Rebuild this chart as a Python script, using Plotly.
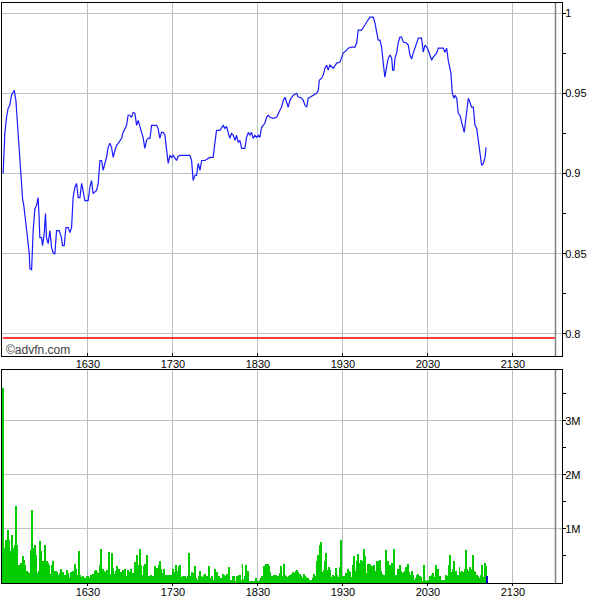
import pandas as pd
import plotly.graph_objects as go

# ---------------- data ----------------
session_start = "2024-01-02 15:30:00"
session_end_min = 390          # 22:00 close marker (minutes after 15:30)
axis_end_min = 394.6
prev_close = 0.7975

# price: minutes after 15:30, price
price_min = [0.2, 1.4, 2.6, 3.7, 4.9, 6.1, 7.3, 8.0, 9.2, 10.8, 12.0, 13.2, 13.9, 14.8, 16.7, 18.6, 19.1, 20.3,
             21.4, 22.6, 23.8, 24.9, 25.6, 26.1, 27.3, 28.0, 29.2, 30.1, 30.8, 32.0, 33.2, 34.4, 35.5, 36.7, 37.9,
             39.7, 41.4, 42.1, 43.3, 44.5, 46.1, 47.3, 48.5, 49.6, 50.8, 52.0, 53.2, 54.4, 55.6, 56.7, 57.9, 59.1,
             60.2, 61.4, 62.6, 63.7, 66.1, 67.3, 68.5, 69.7, 70.8, 72.0, 73.2, 74.3, 75.5, 76.7, 77.9, 79.1, 80.3,
             81.4, 82.6, 83.8, 84.9, 86.1, 87.3, 88.4, 89.6, 90.8, 92.0, 93.2, 94.4, 95.5, 96.7, 97.9, 99.0, 100.2,
             101.4, 102.6, 103.8, 105.0, 108.5, 109.6, 110.8, 112.0, 113.2, 114.4, 115.6, 116.7, 117.9, 119.1,
             120.2, 121.4, 122.6, 123.7, 124.9, 127.3, 132.0, 133.2, 134.3, 135.5, 136.7, 137.9, 139.1, 140.3,
             142.6, 146.1, 148.4, 149.6, 150.8, 153.2, 154.4, 155.5, 156.7, 157.9, 159.0, 160.2, 161.4, 162.6,
             163.8, 164.9, 166.1, 167.3, 168.5, 170.8, 172.0, 173.2, 174.4, 175.5, 176.7, 177.9, 179.1, 180.2,
             181.4, 182.6, 183.7, 184.9, 186.1, 187.3, 188.5, 190.8, 193.2, 194.3, 195.5, 196.7, 197.9, 199.1,
             200.3, 201.4, 202.6, 204.9, 207.3, 208.5, 209.6, 210.8, 212.0, 213.2, 214.4, 215.5, 216.7, 219.0,
             221.4, 222.6, 223.3, 225.0, 226.1, 227.3, 228.5, 229.6, 230.8, 233.2, 235.6, 237.9, 239.1, 240.2,
             242.6, 243.7, 246.1, 248.5, 249.7, 250.8, 253.2, 254.3, 255.5, 256.7, 257.9, 259.1, 261.4, 262.6,
             263.8, 264.9, 266.1, 267.3, 268.4, 269.6, 270.8, 272.0, 273.2, 274.4, 275.1, 276.0, 276.7, 277.9,
             279.0, 280.2, 281.4, 282.6, 284.9, 286.1, 287.3, 288.5, 289.6, 290.8, 292.0, 293.2, 295.5, 296.7,
             297.9, 299.1, 300.2, 301.4, 302.6, 303.7, 304.9, 306.1, 307.3, 309.6, 310.8, 312.0, 313.2, 314.3,
             315.5, 316.2, 317.2, 318.4, 319.1, 320.3, 321.4, 322.6, 323.8, 324.9, 325.6, 326.6, 327.3, 328.5,
             329.6, 330.8, 332.0, 333.2, 334.4, 335.6, 336.7, 337.9, 339.1, 340.3, 341.0]
price_val = [0.9000, 0.9250, 0.9350, 0.9406, 0.9425, 0.9488, 0.9506, 0.9519, 0.9456, 0.9250, 0.9081, 0.8925,
             0.8844, 0.8800, 0.8644, 0.8506, 0.8406, 0.8400, 0.8644, 0.8781, 0.8800, 0.8850, 0.8725, 0.8600,
             0.8600, 0.8550, 0.8625, 0.8750, 0.8600, 0.8563, 0.8644, 0.8538, 0.8506, 0.8500, 0.8644, 0.8644,
             0.8600, 0.8550, 0.8550, 0.8663, 0.8663, 0.8631, 0.8663, 0.8850, 0.8913, 0.8938, 0.8850, 0.8850,
             0.8938, 0.8894, 0.8831, 0.8831, 0.8831, 0.8913, 0.8956, 0.8875, 0.8894, 0.8938, 0.9081, 0.9081,
             0.9019, 0.9063, 0.9100, 0.9163, 0.9188, 0.9163, 0.9100, 0.9144, 0.9175, 0.9188, 0.9206, 0.9219,
             0.9256, 0.9281, 0.9300, 0.9363, 0.9363, 0.9350, 0.9381, 0.9375, 0.9300, 0.9331, 0.9300, 0.9256,
             0.9225, 0.9156, 0.9206, 0.9219, 0.9219, 0.9300, 0.9300, 0.9281, 0.9219, 0.9256, 0.9256, 0.9238,
             0.9144, 0.9063, 0.9113, 0.9100, 0.9113, 0.9094, 0.9081, 0.9106, 0.9113, 0.9113, 0.9113, 0.9081,
             0.8956, 0.8988, 0.8988, 0.9063, 0.9019, 0.9081, 0.9081, 0.9100, 0.9100, 0.9188, 0.9269, 0.9269,
             0.9288, 0.9300, 0.9281, 0.9294, 0.9256, 0.9219, 0.9250, 0.9238, 0.9206, 0.9238, 0.9194, 0.9206,
             0.9156, 0.9156, 0.9225, 0.9256, 0.9238, 0.9256, 0.9219, 0.9238, 0.9225, 0.9238, 0.9225, 0.9288,
             0.9300, 0.9313, 0.9350, 0.9363, 0.9350, 0.9344, 0.9350, 0.9375, 0.9394, 0.9413, 0.9456, 0.9475,
             0.9444, 0.9413, 0.9456, 0.9488, 0.9500, 0.9475, 0.9475, 0.9469, 0.9456, 0.9425, 0.9413, 0.9469,
             0.9475, 0.9488, 0.9500, 0.9519, 0.9581, 0.9594, 0.9613, 0.9656, 0.9675, 0.9644, 0.9675, 0.9656,
             0.9688, 0.9694, 0.9719, 0.9750, 0.9769, 0.9781, 0.9788, 0.9788, 0.9813, 0.9894, 0.9894, 0.9906,
             0.9925, 0.9944, 0.9956, 0.9975, 0.9975, 0.9938, 0.9881, 0.9831, 0.9831, 0.9788, 0.9694, 0.9600,
             0.9663, 0.9719, 0.9738, 0.9719, 0.9644, 0.9644, 0.9719, 0.9750, 0.9813, 0.9850, 0.9850, 0.9819,
             0.9813, 0.9800, 0.9738, 0.9713, 0.9750, 0.9781, 0.9800, 0.9844, 0.9844, 0.9756, 0.9800, 0.9788,
             0.9769, 0.9738, 0.9706, 0.9725, 0.9738, 0.9750, 0.9781, 0.9781, 0.9781, 0.9756, 0.9781, 0.9706,
             0.9663, 0.9625, 0.9500, 0.9469, 0.9488, 0.9469, 0.9375, 0.9363, 0.9319, 0.9288, 0.9256, 0.9331,
             0.9394, 0.9469, 0.9444, 0.9413, 0.9413, 0.9300, 0.9281, 0.9188, 0.9119, 0.9050, 0.9063, 0.9100,
             0.9163]

# volume per bar, in thousands of shares (bars evenly spaced from 15:30 to ~21:12)
volume_k = [3600, 648, 802, 494, 987, 802, 586, 895, 648, 710, 1419, 710, 327, 290, 370, 494, 432, 339, 228, 204,
            185, 617, 1357, 648, 710, 524, 185, 216, 784, 586, 401, 265, 710, 401, 370, 339, 173, 339, 401, 216,
            228, 204, 154, 185, 265, 204, 93, 154, 247, 185, 93, 204, 167, 216, 352, 265, 154, 586, 154, 105,
            123, 74, 93, 123, 123, 93, 154, 123, 167, 228, 247, 204, 185, 327, 636, 265, 228, 204, 247, 185,
            574, 167, 555, 278, 173, 216, 309, 265, 185, 204, 241, 247, 265, 123, 247, 204, 265, 154, 185, 389,
            352, 512, 339, 636, 327, 154, 309, 352, 512, 105, 123, 154, 62, 123, 309, 185, 278, 327, 401, 265,
            185, 265,
            154, 154, 123, 142, 154, 154, 265, 204, 327, 216, 309, 339, 105, 123, 93, 123, 93, 136, 555, 123,
            204, 185, 309, 93, 62, 123, 228, 123, 105, 154, 167, 123, 62, 309, 93, 136, 62, 265, 185, 204,
            123, 62, 93, 167, 154, 123, 167, 93, 290, 62, 43, 123, 123, 43, 123, 154, 154, 62, 358, 80,
            123, 327, 228, 43, 43, 43, 43, 31, 93, 31, 19, 62, 93, 123, 309, 154, 352, 352, 309, 204,
            123, 93, 154, 142, 93, 123, 185, 309, 123, 352, 154, 123, 105, 123, 154, 167, 204, 185, 216, 247,
            204, 167, 123, 93, 167, 123, 105, 93, 62, 62, 62, 93, 167, 123, 413, 524, 710, 753, 204, 247,
            413, 555,
            247, 290, 247, 105, 154, 123, 278, 142, 105, 290, 802, 123, 123, 105, 185, 265, 216, 204, 105, 339,
            494, 216, 401, 537, 370, 432, 413, 636, 494, 185, 352, 352, 352, 309, 167, 339, 228, 413, 401, 432,
            216, 167, 142, 136, 617, 413, 167, 339, 370, 185, 636, 154, 154, 265, 339, 216, 185, 204, 228, 290,
            352, 204, 142, 228, 154, 62, 93, 142, 167, 123, 105, 43, 327, 62, 19, 62, 43, 123, 154, 185,
            105, 327, 185, 265, 123, 43, 62, 62, 62, 142, 123, 327, 512, 204, 265, 413, 228, 123, 142, 290,
            204, 228, 204, 265, 605, 265, 228, 290, 265, 512, 228, 204, 154, 123, 93, 142, 339, 105, 370, 309,
            123]
volume_last_min = 342

hour_ticks = ["16:30", "17:30", "18:30", "19:30", "20:30", "21:30"]
price_ticks = [0.8, 0.85, 0.9, 0.95, 1.0]
price_ticktext = ["0.8", "0.85", "0.9", "0.95", "1"]
price_minor = [0.825, 0.875, 0.925, 0.975]
volume_tickvals = [1_000_000, 2_000_000, 3_000_000]
volume_ticktext = ["1M", "2M", "3M"]
volume_minor = [500_000, 1_500_000, 2_500_000, 3_500_000]

# ---------------- build ----------------
t0 = pd.Timestamp(session_start)
day = t0.strftime("%Y-%m-%d")
px_t = t0 + pd.to_timedelta(price_min, unit="m")
n = len(volume_k)
vol_t = [t0 + pd.Timedelta(minutes=volume_last_min * i / (n - 1)) for i in range(n)]
vol = [v * 1000 for v in volume_k]
vol_colors = ["#00cc00"] * (n - 1) + ["#0000cc"]
x_range = [t0 - pd.Timedelta(minutes=0.6), t0 + pd.Timedelta(minutes=axis_end_min)]
t_close = t0 + pd.Timedelta(minutes=session_end_min)
tickvals = [pd.Timestamp(f"{day} {h}") for h in hour_ticks]
ticktext = [h.replace(":", "") for h in hour_ticks]

GRID = "#b8c0c0"
FONT = dict(family="Liberation Sans, Arial, sans-serif", size=11, color="#000000")

fig = go.Figure()
fig.add_trace(go.Scatter(x=px_t, y=price_val, mode="lines",
                         line=dict(color="#1a1aff", width=1.2), xaxis="x", yaxis="y", showlegend=False))
fig.add_trace(go.Scatter(x=[t0, t_close], y=[prev_close, prev_close], mode="lines",
                         line=dict(color="#ff0000", width=1.5), xaxis="x", yaxis="y", showlegend=False))
fig.add_trace(go.Bar(x=vol_t, y=vol, marker=dict(color=vol_colors, line=dict(width=0)),
                     width=42000, xaxis="x2", yaxis="y2", showlegend=False))
fig.add_trace(go.Scatter(x=x_range, y=[0, 0], mode="lines", line=dict(width=0),
                         opacity=0, xaxis="x3", yaxis="y2", showlegend=False, hoverinfo="skip"))

xcommon = dict(type="date", range=x_range, tickmode="array", tickvals=tickvals, ticktext=ticktext,
               showgrid=True, gridcolor=GRID, gridwidth=1, showline=True, linecolor="#000000",
               linewidth=1, tickfont=FONT, zeroline=False, automargin=False)

fig.update_layout(
    width=600, height=600,
    margin=dict(l=2, r=38, t=3, b=17, autoexpand=False),
    paper_bgcolor="#ffffff", plot_bgcolor="#ffffff",
    bargap=0,
    xaxis=dict(**xcommon, domain=[0, 1], anchor="y", mirror=True, showticklabels=False,
               ticks="inside", ticklen=3, tickcolor="#000000"),
    yaxis=dict(domain=[0.3914, 1], anchor="x", side="right", range=[0.78625, 1.00625],
               tickmode="array", tickvals=price_ticks, ticktext=price_ticktext,
               ticks="outside", ticklen=3, ticklabelstandoff=-3,
               tickcolor="#000000", showgrid=True, gridcolor=GRID, showline=True,
               linecolor="#000000", mirror=True, tickfont=FONT, zeroline=False, automargin=False,
               minor=dict(ticks="outside", ticklen=3, tickvals=price_minor,
                          tickcolor="#000000", showgrid=False)),
    xaxis2=dict(**xcommon, domain=[0, 1], anchor="y2", mirror=True, showticklabels=True,
                ticks="outside", ticklen=2, ticklabelstandoff=-3, tickcolor="#000000"),
    xaxis3=dict(type="date", range=x_range, tickmode="array", tickvals=tickvals, ticktext=ticktext,
                overlaying="x2", anchor="y2", side="top", showgrid=False, showline=False,
                ticks="", tickfont=FONT, zeroline=False, automargin=False, ticklabelstandoff=-1),
    yaxis2=dict(domain=[0, 0.3672], anchor="x2", side="right", range=[0, 3_940_000],
                tickmode="array", tickvals=volume_tickvals, ticktext=volume_ticktext,
                ticks="outside", ticklen=3, ticklabelstandoff=-3, tickcolor="#000000", showgrid=True,
                gridcolor=GRID, showline=True, linecolor="#000000", mirror=True, tickfont=FONT,
                zeroline=False, automargin=False,
                minor=dict(ticks="outside", ticklen=3, tickvals=volume_minor,
                           tickcolor="#000000", showgrid=False)),
    shapes=[
        dict(type="line", xref="x", yref="y domain", x0=t_close, x1=t_close, y0=0, y1=1,
             line=dict(color="#808080", width=1.5)),
        dict(type="line", xref="x2", yref="y2 domain", x0=t_close, x1=t_close, y0=0, y1=1,
             line=dict(color="#808080", width=1.5)),
    ],
    annotations=[
        dict(text="©advfn.com", xref="x domain", yref="y domain", x=0.004, y=0.0, yshift=-3,
             xanchor="left", yanchor="bottom", showarrow=False,
             font=dict(family="Liberation Sans, Arial, sans-serif", size=12, color="#404040")),
    ],
)

fig.write_html("out.html", config={"displayModeBar": False},
               post_script="document.body.style.margin='0';document.body.style.overflow='hidden';")
